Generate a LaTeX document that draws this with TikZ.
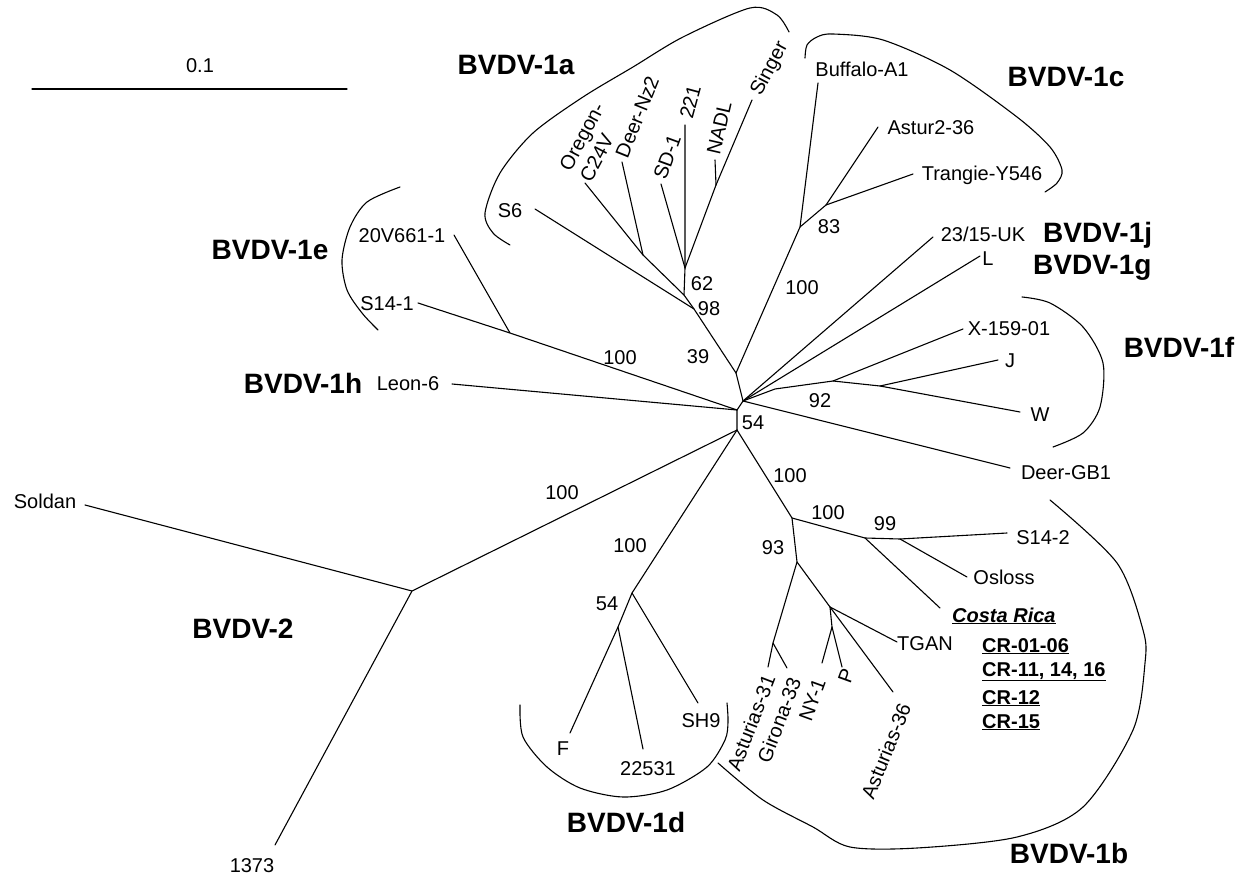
\documentclass[tikz,border=0pt]{standalone}
\usepackage{fontspec}
\setmainfont{Liberation Sans}
\tikzset{
  lbl/.style={font=\fontsize{20}{23}\selectfont,inner sep=0pt,text height=14.3pt,text depth=0pt},
  grp/.style={font=\fontsize{28}{31}\selectfont\bfseries,inner sep=0pt,text height=20pt,text depth=0pt},
  crlbl/.style={font=\fontsize{20}{23}\selectfont\bfseries,inner sep=0pt,anchor=base west},
  br/.style={line width=1.1pt},
  clade/.style={line width=1.1pt}
}
\begin{document}
\begin{tikzpicture}[line cap=round,line join=round,x=1pt,y=-1pt]
\useasboundingbox (0,0) rectangle (1241,874);
% scale bar
\coordinate (sb1) at (32,89);
\coordinate (sb2) at (347,89);
\draw[br] (sb1) -- (sb2);
\node[lbl] (sbtxt) at (200,65) {0.1};

% inner nodes of the tree
\coordinate (n39) at (736,373);
\coordinate (nR) at (743,401);
\coordinate (nC) at (737,410);
\coordinate (nB) at (737,430);
\coordinate (nS6) at (694,309);
\coordinate (n98) at (684,295);
\coordinate (n62) at (685,268);
\coordinate (nNS) at (716,185);
\coordinate (nOD) at (643,255);
\coordinate (n83) at (800,227);
\coordinate (nAT) at (826,205);
\coordinate (nF1) at (775,389);
\coordinate (nX) at (833,381);
\coordinate (nJW) at (880,386);
\coordinate (n1e) at (510,333);
\coordinate (n2) at (412,591);
\coordinate (n54d) at (632,593);
\coordinate (nF22) at (618,627);
\coordinate (n1b) at (792,518);
\coordinate (nS) at (865,538);
\coordinate (n99) at (900,539);
\coordinate (n93) at (797,562);
\coordinate (nAG) at (773,643);
\coordinate (nT) at (830,607);
\coordinate (nNP) at (832,627);

% branch ends
\coordinate (eS6) at (535,209);
\coordinate (eOr) at (585,183);
\coordinate (eDe) at (622,162);
\coordinate (eSD) at (661,184);
\coordinate (e221) at (685,125);
\coordinate (eNADL) at (715,160);
\coordinate (eSing) at (752,100);
\coordinate (eBuf) at (818,83);
\coordinate (eAst) at (878,127);
\coordinate (eTra) at (913,174);
\coordinate (e23) at (933,237);
\coordinate (eL) at (980,256);
\coordinate (eX) at (963,329);
\coordinate (eJ) at (998,360);
\coordinate (eW) at (1020,412);
\coordinate (eDGB) at (1010,468);
\coordinate (e20V) at (454,235);
\coordinate (eS141) at (418,303);
\coordinate (eLeon) at (452,384);
\coordinate (eSol) at (85,505);
\coordinate (e1373) at (275,845);
\coordinate (eF) at (570,733);
\coordinate (e225) at (643,749);
\coordinate (eSH9) at (698,703);
\coordinate (eS142) at (1007,533);
\coordinate (eOsl) at (967,577);
\coordinate (eCR) at (940,608);
\coordinate (eA31) at (768,667);
\coordinate (eG33) at (787,668);
\coordinate (eTG) at (897,642);
\coordinate (eNY) at (822,663);
\coordinate (eP) at (842,667);
\coordinate (eA36) at (893,692);

% branches
\draw[br] (n39) -- (nR) -- (nC) -- (nB);
\draw[br] (n39) -- (nS6) -- (n98) -- (n62) -- (e221);
\draw[br] (nS6) -- (eS6);
\draw[br] (n98) -- (nOD) -- (eOr);
\draw[br] (nOD) -- (eDe);
\draw[br] (n62) -- (eSD);
\draw[br] (n62) -- (nNS) -- (eSing);
\draw[br] (nNS) -- (eNADL);
\draw[br] (n39) -- (n83) -- (eBuf);
\draw[br] (n83) -- (nAT) -- (eAst);
\draw[br] (nAT) -- (eTra);
\draw[br] (nR) -- (e23);
\draw[br] (nR) -- (eL);
\draw[br] (nR) -- (nF1) -- (nX) -- (eX);
\draw[br] (nX) -- (nJW) -- (eJ);
\draw[br] (nJW) -- (eW);
\draw[br] (nR) -- (eDGB);
\draw[br] (nC) -- (n1e) -- (eS141);
\draw[br] (n1e) -- (e20V);
\draw[br] (nC) -- (eLeon);
\draw[br] (nB) -- (n2) -- (eSol);
\draw[br] (n2) -- (e1373);
\draw[br] (nB) -- (n54d) -- (eSH9);
\draw[br] (n54d) -- (nF22) -- (eF);
\draw[br] (nF22) -- (e225);
\draw[br] (nB) -- (n1b) -- (nS) -- (n99) -- (eS142);
\draw[br] (n99) -- (eOsl);
\draw[br] (nS) -- (eCR);
\draw[br] (n1b) -- (n93) -- (nAG) -- (eA31);
\draw[br] (nAG) -- (eG33);
\draw[br] (n93) -- (nT) -- (eTG);
\draw[br] (nT) -- (nNP) -- (eNY);
\draw[br] (nNP) -- (eP);
\draw[br] (nT) -- (eA36);

% bootstrap values
\foreach \v/\x/\y [count=\i] in {62/702/283, 98/709/308, 39/698/356, 100/802/287,
    83/829/226, 100/620/357, 54/753/422, 92/820/400, 100/790/475, 100/828/512,
    99/885/523, 93/773/547, 100/562/492, 100/630/545, 54/607/603}
  \node[lbl] (bs\i) at (\x,\y) {\v};

% strain names
\node[lbl] (s6) at (510,210) {S6};
\node[font=\fontsize{20}{23}\selectfont,inner sep=0pt,align=left,rotate=62] (oregon) at (592,142) {Oregon-\\C24V};
\node[lbl,rotate=68] (deernz) at (637,117) {Deer-Nz2};
\node[lbl,rotate=70] (sd1) at (667,157) {SD-1};
\node[lbl,rotate=75] (s221) at (690,102) {221};
\node[lbl,rotate=77] (nadl) at (719,128) {NADL};
\node[lbl,rotate=62] (singer) at (768,68) {Singer};
\node[lbl] (buffalo) at (862,69) {Buffalo-A1};
\node[lbl] (astur) at (931,127) {Astur2-36};
\node[lbl] (trangie) at (982,173) {Trangie-Y546};
\node[lbl] (uk) at (983,234) {23/15-UK};
\node[lbl] (l) at (988,258) {L};
\node[lbl] (x159) at (1009,328) {X-159-01};
\node[lbl] (j) at (1010,360) {J};
\node[lbl] (w) at (1040,414) {W};
\node[lbl] (deergb) at (1066,472) {Deer-GB1};
\node[lbl] (v661) at (402,235) {20V661-1};
\node[lbl] (s141) at (387,303) {S14-1};
\node[lbl] (leon) at (408,383) {Leon-6};
\node[lbl] (soldan) at (45,501) {Soldan};
\node[lbl] (s1373) at (252,865) {1373};
\node[lbl] (f) at (563,748) {F};
\node[lbl] (s22531) at (648,768) {22531};
\node[lbl] (sh9) at (701,720) {SH9};
\node[lbl,rotate=69] (ast31) at (751,723) {Asturias-31};
\node[lbl,rotate=69] (gir33) at (779,720) {Girona-33};
\node[lbl,rotate=70] (ny1) at (812,700) {NY-1};
\node[lbl,rotate=70] (p) at (846,676) {P};
\node[lbl,rotate=68] (ast36) at (886,751) {Asturias-36};
\node[lbl] (tgan) at (925,643) {TGAN};
\node[lbl] (s142) at (1043,537) {S14-2};
\node[lbl] (osloss) at (1004,577) {Osloss};
\node[crlbl] (costa) at (952,622) {\underline{\itshape Costa Rica}};
\node[crlbl] (cr1) at (982,652) {\underline{CR-01-06}};
\node[crlbl] (cr2) at (982,676) {\underline{CR-11, 14, 16}};
\node[crlbl] (cr3) at (982,704) {\underline{CR-12}};
\node[crlbl] (cr4) at (982,728) {\underline{CR-15}};

% genotype labels
\node[grp] (g1a) at (516,65) {BVDV-1a};
\node[grp] (g1c) at (1066,77) {BVDV-1c};
\node[grp,anchor=west] (g1j) at (1043,233) {BVDV-1j};
\node[grp,anchor=west] (g1g) at (1033,265) {BVDV-1g};
\node[grp] (g1f) at (1179,347) {BVDV-1f};
\node[grp] (g1e) at (270,250) {BVDV-1e};
\node[grp] (g1h) at (303,383) {BVDV-1h};
\node[grp] (g2) at (243,628) {BVDV-2};
\node[grp] (g1d) at (626,822) {BVDV-1d};
\node[grp] (g1b) at (1069,853) {BVDV-1b};

% clade arcs
\draw[clade] plot[smooth] coordinates {(510,245) (493,233) (485,213) (500,173) (533,133)
  (583,97) (633,67) (683,37) (750,8) (777,15) (789,32)};
\draw[clade] plot[smooth] coordinates {(805,58) (807,45) (817,37) (833,34) (883,40)
  (950,70) (1017,117) (1050,147) (1062,170) (1057,183) (1045,192)};
\draw[clade] plot[smooth] coordinates {(400,187) (367,202) (350,227) (342,260) (347,290)
  (362,313) (378,330)};
\draw[clade] plot[smooth] coordinates {(1022,297) (1050,303) (1083,327) (1103,363)
  (1100,407) (1083,433) (1053,447)};
\draw[clade] plot[smooth] coordinates {(520,705) (523,737) (547,767) (580,788) (623,797)
  (667,790) (707,767) (725,740) (728,722) (727,703)};
\draw[clade] plot[smooth] coordinates {(1050,500) (1117,563) (1143,630) (1145,663)
  (1133,730) (1083,807) (1017,837) (917,848) (850,847) (813,827) (763,800) (718,763)};
\end{tikzpicture}
\end{document}
